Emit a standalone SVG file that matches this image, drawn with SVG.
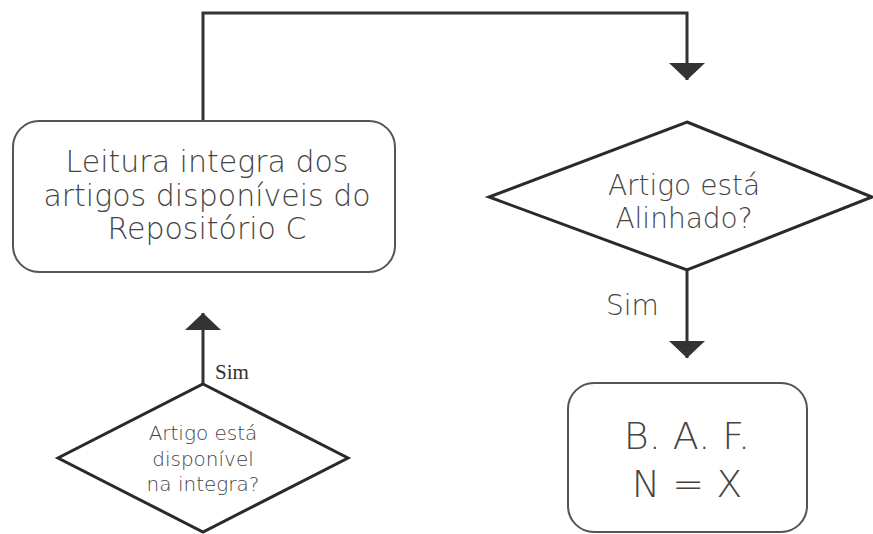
<svg xmlns="http://www.w3.org/2000/svg" width="873" height="534" viewBox="0 0 873 534">
<style>
.box{fill:#fff;stroke:#555;stroke-width:2}
.dia{fill:#fff;stroke:#2a2a2a;stroke-width:3;stroke-linejoin:miter}
.wire{fill:none;stroke:#333;stroke-width:3}
.t{font-family:"DejaVu Sans","Liberation Sans",sans-serif;fill:#444;text-anchor:middle;font-weight:300}
.lbl{font-family:"DejaVu Sans","Liberation Sans",sans-serif;fill:#444;font-weight:300}
.lbls{font-family:"Liberation Serif","DejaVu Serif",serif;fill:#333}
</style>
<defs>
<marker id="arr" viewBox="0 0 17 36" refX="17" refY="18" markerWidth="17" markerHeight="36" markerUnits="userSpaceOnUse" orient="auto">
<path d="M0,0 L17,18 L0,36 z" fill="#333"/>
</marker>
</defs>
<rect width="873" height="534" fill="#fff"/>
<g id="connectors">
<path class="wire" d="M203,121 V13 H687 V80" marker-end="url(#arr)"/>
<path class="wire" d="M687,270 V358" marker-end="url(#arr)"/>
<path class="wire" d="M203,384 V313" marker-end="url(#arr)"/>
<text class="lbl" x="606" y="315" font-size="28">Sim</text>
<text class="lbls" x="215" y="379" font-size="21">Sim</text>
</g>
<g id="leitura">
<rect class="box" x="13" y="121" width="382" height="151" rx="26"/>
<text class="t" x="207" y="172" font-size="30">Leitura integra dos</text>
<text class="t" x="207" y="206" font-size="30">artigos disponíveis do</text>
<text class="t" x="207" y="239" font-size="30">Repositório C</text>
</g>
<g id="alinhado">
<polygon class="dia" points="687,122 872,197 687,270 489,197"/>
<text class="t" x="684" y="195" font-size="28">Artigo está</text>
<text class="t" x="684" y="228" font-size="28">Alinhado?</text>
</g>
<g id="disponivel">
<polygon class="dia" points="203,384 348,458 203,532 58,458"/>
<text class="t" x="203" y="440" font-size="20">Artigo está</text>
<text class="t" x="203" y="466" font-size="20">disponível</text>
<text class="t" x="203" y="491" font-size="20">na integra?</text>
</g>
<g id="baf">
<rect class="box" x="568" y="383" width="239" height="149" rx="26"/>
<text class="t" x="687" y="449" font-size="38">B. A. F.</text>
<text class="t" x="687" y="497" font-size="38">N = X</text>
</g>
</svg>
